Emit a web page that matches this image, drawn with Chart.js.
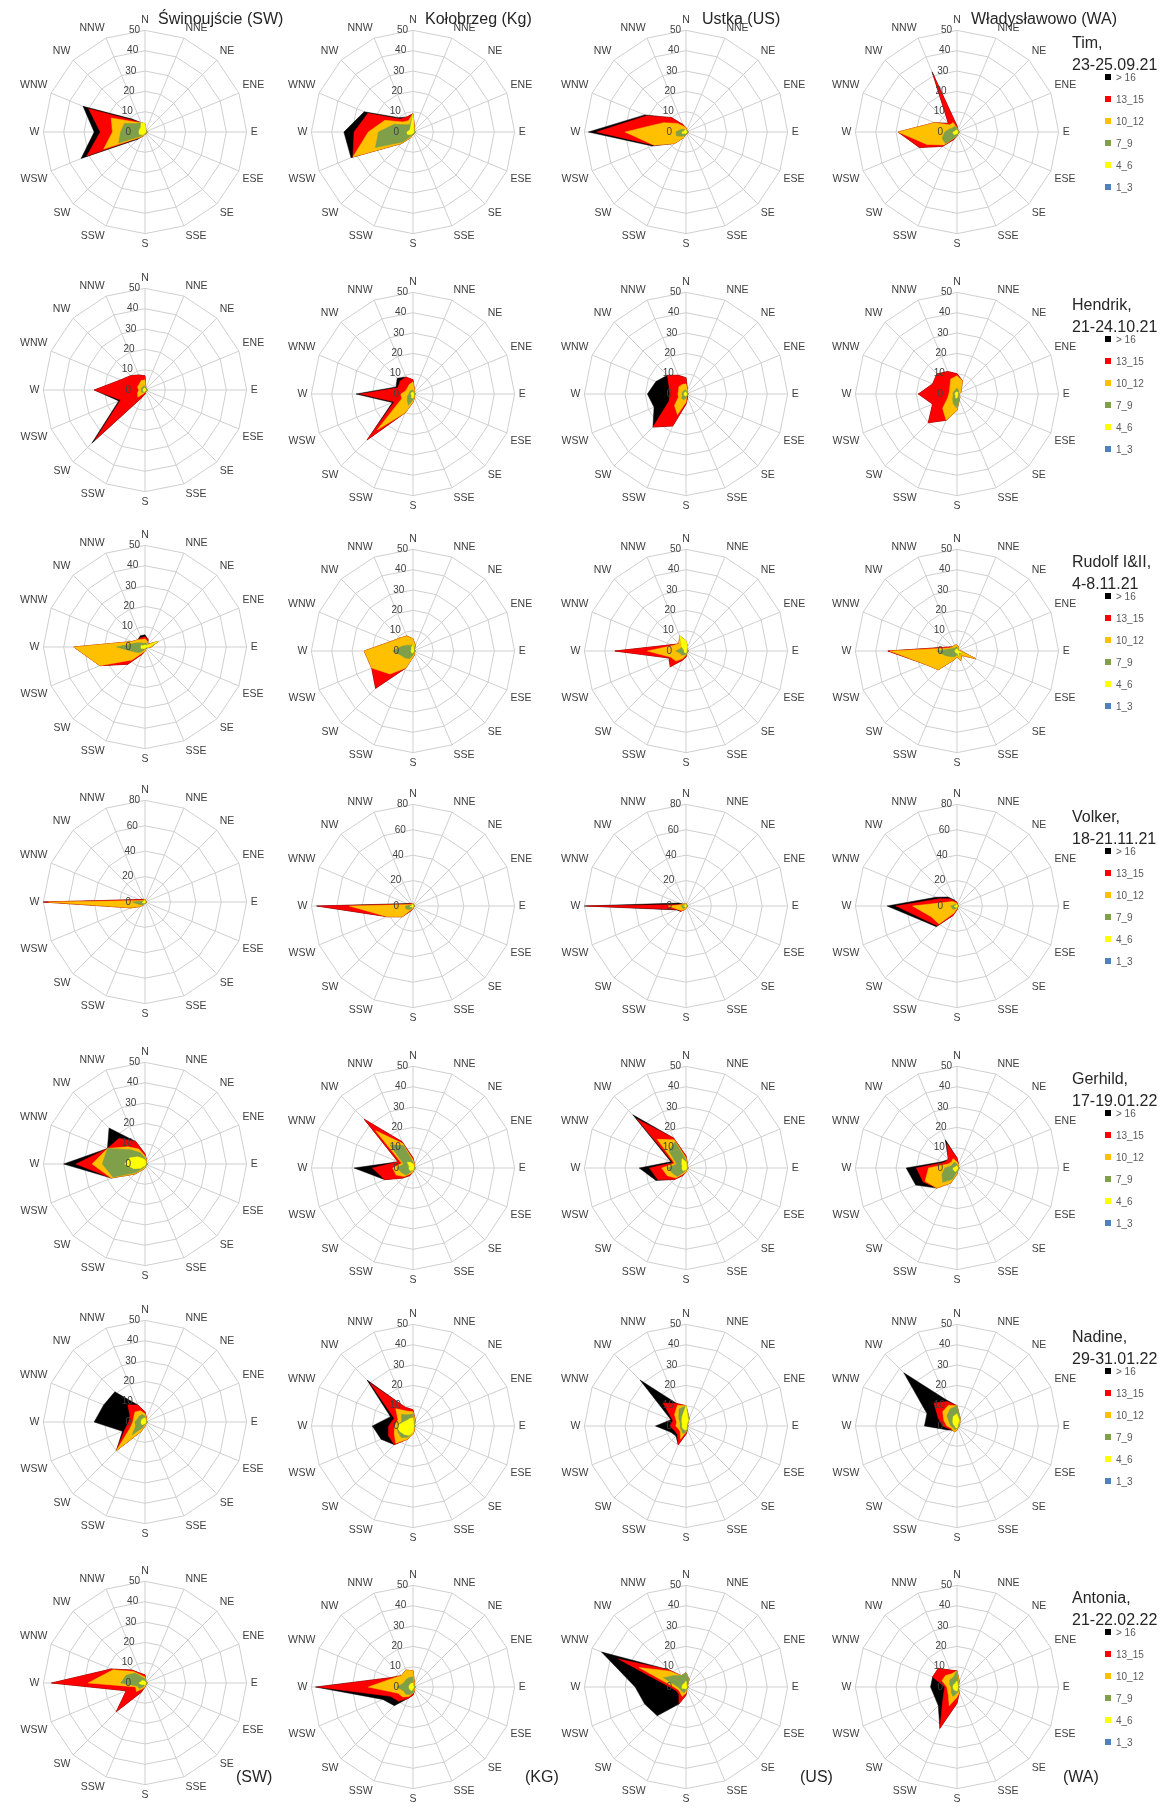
<!DOCTYPE html>
<html>
<head>
<meta charset="utf-8">
<script src="https://cdn.jsdelivr.net/npm/chart.js@4.4.1/dist/chart.umd.min.js"></script>
<style>
	body { margin: 0; background: #fff; }
	#strona { position: relative; width: 1166px; height: 1809px; overflow: hidden; font-family: 'Liberation Sans', Arial, sans-serif; }
	.wykres { position: absolute; }
	.napis { position: absolute; white-space: nowrap; color: #262626; font-size: 16px; line-height: 22px; }
	.leg { position: absolute; white-space: nowrap; color: #595959; font-size: 10px; line-height: 12px; }
	.leg span { display: inline-block; width: 6px; height: 6px; margin-right: 5px; vertical-align: 1px; }
</style>
</head>
<body>
<div id="strona"></div>
<script>
// kierunki wiatru (od N zgodnie z ruchem wskazowek)
const kierunki = ['N', 'NNE', 'NE', 'ENE', 'E', 'ESE', 'SE', 'SSE', 'S', 'SSW', 'SW', 'WSW', 'W', 'WNW', 'NW', 'NNW'];
const klasy = ['> 16', '13_15', '10_12', '7_9', '4_6', '1_3'];
const kolory = ['#000000', '#ff0000', '#ffc000', '#7f9f48', '#ffff00', '#4f81bd'];
const stacje = ['Świnoujście (SW)', 'Kołobrzeg (Kg)', 'Ustka (US)', 'Władysławowo (WA)'];
const kody = ['(SW)', '(KG)', '(US)', '(WA)'];
const sztormy = ['Tim,', 'Hendrik,', 'Rudolf I&II,', 'Volker,', 'Gerhild,', 'Nadine,', 'Antonia,'];
const daty = ['23-25.09.21', '21-24.10.21', '4-8.11.21', '18-21.11.21', '17-19.01.22', '29-31.01.22', '21-22.02.22'];
const ticks50 = [0, 10, 20, 30, 40, 50];
const ticks80 = [0, 20, 40, 60, 80];
const cisza = [0, 0, 0, 0, 0, 0, 0, 0, 0, 0, 0, 0, 0, 0, 0, 0]; // klasa 1_3 - nie widac jej nigdzie

// obwiednie warstw: > 16, 13_15, 10_12, 7_9, 4_6 (kierunki jak wyzej)
const tim_SW = [
	[4,1,1,1,1,1,1,1,1,2,5,34,25,33,9,5],
	[4,1,1,1,1,1,1,1,1,2,4,31,22,30,8,5],
	[4,1,1,1,1,1,1,1,1,2,4,22,16,18,7,5],
	[4,1,1,1,1,1,1,1,1,1,3,14,12,11,6,5],
	[4,1,.5,.5,.5,.5,.5,.5,.5,1,2,3,3,3,3,5]];
const tim_KG = [
	[9,2,1,1,1,1,1,1,1,3,8,33,34,26,10,8],
	[9,2,1,1,1,1,1,1,1,3,8,32,29,24,9,8],
	[9,2,1,1,1,1,1,1,1,3,8,32,22,15,7,6],
	[9,1,1,1,1,1,1,1,1,2,7,20,17,10,5,4],
	[9,1,.5,.5,.5,.5,.5,.5,.5,1,2,3,3,2,2,3]];
const tim_US = [
	[2,1,1,1,1,1,1,1,1,3,8,18,48,22,10,4],
	[2,1,1,1,1,1,1,1,1,3,8,17,44,21,10,4],
	[2,1,1,1,1,1,1,1,1,3,8,17,30,12,6,3],
	[1,1,1,1,1,1,1,1,1,2,3,5,5,3,2,1],
	[1,.5,.5,.5,.5,.5,.5,.5,.5,1,1,2,2,1,1,1]];
const tim_WA = [
	[3,1,1,1,1,1,1,1,2,4,10,20,29,12,6,32],
	[3,1,1,1,1,1,1,1,2,4,10,20,29,12,6,31],
	[2,1,1,1,1,1,1,1,2,3,9,16,29,12,5,5],
	[2,1,1,1,1,1,1,1,2,3,8,8,6,4,3,3],
	[1,.5,.5,.5,.5,.5,.5,.5,1,1,2,2,2,1,1,1]];

const hendrik_SW = [
	[7,1,1,1,1,1,1,1,2,4,37,14,25,13,10,8],
	[7,1,1,1,1,1,1,1,2,4,35,13,25,13,10,8],
	[5,1,1,1,1,1,1,1,1,2,5,4,3,4,4,5],
	[2,1,1,1,1,1,1,1,1,1,2,2,2,2,2,2],
	[1,.5,.5,.5,.5,.5,.5,.5,.5,1,1,1,1,1,1,1]];
const hendrik_KG = [
	[7,2,1,1,1,1,1,2,4,10,32,11,28,9,11,9],
	[7,2,1,1,1,1,1,2,4,10,32,10,26,8,9,9],
	[6,2,1,1,1,1,1,2,4,10,25,6,6,4,4,5],
	[2,1,1,1,1,1,1,1,3,6,4,3,2,2,2,2],
	[1,.5,.5,.5,.5,.5,.5,1,2,2,1,1,1,1,1,1]];
const hendrik_US = [
	[8,2,1,1,1,1,1,2,5,17,23,17,19,16,13,10],
	[8,2,1,1,1,1,1,2,5,17,23,9,8,9,13,10],
	[5,2,1,1,1,1,1,1,4,11,8,4,4,4,5,5],
	[2,1,1,1,1,1,1,1,2,3,3,2,2,2,2,2],
	[1,.5,.5,.5,.5,.5,.5,.5,1,1,1,1,1,1,1,1]];
const hendrik_WA = [
	[10,7,3,2,1,1,2,3,8,14,20,13,19,13,14,12],
	[10,7,3,2,1,1,2,3,8,14,20,13,19,13,14,12],
	[9,7,3,2,1,1,2,3,8,14,10,5,4,4,5,8],
	[3,2,1,1,1,1,1,3,7,5,3,2,2,2,2,2],
	[1,1,.5,.5,.5,.5,.5,1,2,2,1,1,1,1,1,1]];

const rudolf_SW = [
	[6,4,2,7,3,1,1,1,2,4,12,24,35,7,5,6],
	[5,4,2,7,3,1,1,1,2,4,12,24,35,7,5,5],
	[4,3,2,7,3,1,1,1,2,3,9,24,35,7,5,4],
	[2,2,1,7,2,1,1,1,1,2,4,6,14,5,3,2],
	[1,1,1,7,2,.5,.5,.5,.5,1,1,2,2,2,1,1]];
const rudolf_KG = [
	[6,3,1,1,1,1,1,2,3,9,26,22,24,12,9,8],
	[6,3,1,1,1,1,1,2,3,9,26,22,24,12,9,8],
	[6,3,1,1,1,1,1,2,3,9,16,22,24,12,9,8],
	[3,2,1,1,1,1,1,1,2,4,5,6,10,6,4,3],
	[3,1,.5,.5,.5,.5,.5,.5,1,1,1,1,1,1,1,2]];
const rudolf_US = [
	[5,2,1,1,1,1,1,1,3,5,11,9,35,8,5,8],
	[5,2,1,1,1,1,1,1,3,5,11,9,35,8,5,8],
	[5,2,1,1,1,1,1,1,2,4,7,8,19,7,5,8],
	[5,2,1,1,1,1,1,1,2,2,3,3,5,3,3,8],
	[5,2,.5,.5,.5,.5,.5,.5,1,1,1,1,1,1,3,8]];
const rudolf_WA = [
	[3,2,1,1,2,10,3,5,3,5,13,17,34,5,3,3],
	[3,2,1,1,2,10,3,5,3,5,13,17,34,5,3,3],
	[3,2,1,1,2,10,3,5,3,5,13,17,33,4,3,3],
	[2,1,1,1,1,3,2,3,2,3,4,6,10,3,2,2],
	[1,1,.5,.5,1,3,1,3,1,1,1,1,1,1,1,1]];

const volker_SW = [
	[2,1,1,1,1,1,1,1,1,2,5,12,80,5,3,2],
	[2,1,1,1,1,1,1,1,1,2,5,12,80,5,3,2],
	[2,1,1,1,1,1,1,1,1,2,5,12,76,3,2,2],
	[1,1,1,1,1,1,1,1,1,1,3,5,10,2,1,1],
	[1,.5,.5,.5,.5,.5,.5,.5,.5,1,1,2,2,1,1,1]];
const volker_KG = [
	[2,1,1,1,1,1,1,1,2,4,12,22,76,5,3,2],
	[2,1,1,1,1,1,1,1,2,4,12,22,75,4,3,2],
	[2,1,1,1,1,1,1,1,2,3,12,22,50,3,2,2],
	[1,1,1,1,1,1,1,1,1,2,4,6,6,2,1,1],
	[1,.5,.5,.5,.5,.5,.5,.5,1,1,1,2,2,1,1,1]];
const volker_US = [
	[2,1,1,1,1,1,1,1,2,3,6,8,80,6,2,2],
	[2,1,1,1,1,1,1,1,2,3,6,7,78,3,2,2],
	[2,1,1,1,1,1,1,1,2,3,5,7,14,3,2,2],
	[1,1,1,1,1,1,1,1,1,1,3,3,4,2,1,1],
	[1,.5,.5,.5,.5,.5,.5,.5,1,1,1,1,2,1,1,1]];
const volker_WA = [
	[3,1,1,1,1,1,1,1,3,8,23,30,55,18,10,5],
	[3,1,1,1,1,1,1,1,3,8,22,28,48,15,8,4],
	[2,1,1,1,1,1,1,1,2,6,20,22,35,8,5,3],
	[1,1,1,1,1,1,1,1,1,2,4,4,5,2,2,1],
	[1,.5,.5,.5,.5,.5,.5,.5,1,1,1,2,2,1,1,1]];

const gerhild_SW = [
	[5,2,1,1,1,1,1,1,2,3,7,18,40,20,25,12],
	[5,2,1,1,1,1,1,1,2,3,7,18,34,20,18,12],
	[4,2,1,1,1,1,1,1,2,3,7,18,26,20,12,8],
	[3,1,1,1,1,1,1,1,1,2,6,17,21,20,10,6],
	[2,1,.5,.5,.5,.5,.5,.5,1,1,3,6,10,8,5,3]];
const gerhild_KG = [
	[5,2,1,1,1,1,1,1,2,4,7,15,29,8,34,14],
	[5,2,1,1,1,1,1,1,2,4,7,15,20,8,34,14],
	[4,2,1,1,1,1,1,1,2,3,6,9,10,6,26,13],
	[3,1,1,1,1,1,1,1,1,2,5,6,8,5,16,12],
	[2,1,.5,.5,.5,.5,.5,.5,1,1,2,2,2,2,4,3]];
const gerhild_US = [
	[6,2,1,1,1,1,1,1,2,4,8,16,23,8,37,16],
	[6,2,1,1,1,1,1,1,2,4,8,15,18,7,34,16],
	[5,2,1,1,1,1,1,1,2,3,7,10,12,6,20,15],
	[4,1,1,1,1,1,1,1,1,2,6,7,9,5,12,14],
	[3,1,.5,.5,.5,.5,.5,.5,1,1,2,2,2,2,3,5]];
const gerhild_WA = [
	[5,2,1,1,1,1,1,1,3,8,14,22,25,8,6,15],
	[5,2,1,1,1,1,1,1,3,8,14,18,20,7,6,13],
	[3,2,1,1,1,1,1,1,3,8,14,17,14,5,4,5],
	[2,1,1,1,1,1,1,1,2,6,10,8,6,3,3,3],
	[1,.5,.5,.5,.5,.5,.5,.5,1,2,2,2,2,1,1,1]];

const nadine_SW = [
	[5,2,1,1,1,1,1,1,2,5,20,12,25,22,21,9],
	[5,2,1,1,1,1,1,1,2,5,20,11,8,8,12,9],
	[4,2,1,1,1,1,1,1,2,5,20,8,6,6,7,6],
	[3,1,1,1,1,1,1,1,1,3,9,5,5,4,4,4],
	[2,1,.5,.5,.5,.5,.5,.5,1,1,2,2,2,2,2,2]];
const nadine_KG = [
	[8,3,1,1,1,1,1,2,4,7,13,17,20,12,32,10],
	[8,3,1,1,1,1,1,2,4,7,13,13,12,10,30,10],
	[7,3,1,1,1,1,1,2,4,7,12,10,9,8,12,8],
	[6,2,1,1,1,1,1,1,3,6,8,8,8,6,8,6],
	[4,1,.5,.5,.5,.5,.5,1,3,5,6,7,8,5,4,4]];
const nadine_US = [
	[10,4,1,1,1,1,1,2,4,10,7,8,15,8,32,12],
	[10,4,1,1,1,1,1,2,4,10,6,6,8,7,16,12],
	[10,4,1,1,1,1,1,2,3,7,4,4,5,5,8,11],
	[10,4,1,1,1,1,1,1,3,4,3,3,3,3,5,9],
	[10,3,.5,.5,.5,.5,.5,1,2,2,2,2,2,2,3,5]];
const nadine_WA = [
	[10,4,2,1,1,1,1,1,2,3,3,5,16,16,37,14],
	[10,4,2,1,1,1,1,1,2,3,3,4,7,10,16,13],
	[10,4,2,1,1,1,1,1,2,3,3,3,5,7,10,11],
	[10,4,1,1,1,1,1,1,1,2,2,2,3,4,7,9],
	[6,3,.5,.5,.5,.5,.5,.5,1,1,1,1,1,2,3,5]];

const antonia_SW = [
	[4,1,1,1,1,1,1,1,2,5,20,10,46,18,9,5],
	[4,1,1,1,1,1,1,1,2,5,20,10,46,18,9,5],
	[3,1,1,1,1,1,1,1,2,3,6,5,28,17,8,4],
	[2,1,1,1,1,1,1,1,1,2,4,4,12,10,7,3],
	[1,.5,.5,.5,.5,.5,.5,.5,1,1,1,2,3,2,2,1]];
const antonia_KG = [
	[8,2,1,1,1,1,1,2,4,6,13,16,48,12,8,9],
	[8,2,1,1,1,1,1,2,4,6,10,12,47,12,8,9],
	[8,2,1,1,1,1,1,2,3,5,7,8,22,11,8,9],
	[5,1,1,1,1,1,1,1,3,4,5,5,8,5,5,5],
	[2,.5,.5,.5,.5,.5,.5,.5,1,2,2,2,2,2,2,2]];
const antonia_US = [
	[7,4,1,1,1,1,1,1,4,9,20,22,25,45,12,6],
	[7,4,1,1,1,1,1,1,4,9,5,5,8,36,12,6],
	[7,4,1,1,1,1,1,1,3,5,4,4,6,25,11,6],
	[7,4,1,1,1,1,1,1,2,3,3,3,4,12,8,6],
	[3,1,.5,.5,.5,.5,.5,.5,1,1,1,2,2,2,2,2]];
const antonia_WA = [
	[8,3,1,1,1,1,1,3,8,22,13,12,13,13,13,9],
	[8,3,1,1,1,1,1,3,8,22,10,7,6,13,13,9],
	[8,3,1,1,1,1,1,3,5,10,6,5,5,8,8,7],
	[8,2,1,1,1,1,1,2,3,5,4,3,3,4,5,5],
	[3,1,.5,.5,.5,.5,.5,1,2,2,2,2,2,2,2,2]];

const wiersze = [
	[tim_SW, tim_KG, tim_US, tim_WA],
	[hendrik_SW, hendrik_KG, hendrik_US, hendrik_WA],
	[rudolf_SW, rudolf_KG, rudolf_US, rudolf_WA],
	[volker_SW, volker_KG, volker_US, volker_WA],
	[gerhild_SW, gerhild_KG, gerhild_US, gerhild_WA],
	[nadine_SW, nadine_KG, nadine_US, nadine_WA],
	[antonia_SW, antonia_KG, antonia_US, antonia_WA]
];

// rozmieszczenie na stronie
const srodkiX = [142, 410, 683, 954];
const srodkiY = [133, 391, 648, 903, 1165, 1423, 1684];
const ROZMIAR = 250;
const FONT = '"Liberation Sans", Arial';

// etykiety osi (0..50) po lewej stronie osi N, schodkowo jak w Excelu
const etykietyOsi = {
	id: 'etykietyOsi',
	afterDraw(chart) {
		const r = chart.scales.r;
		const ctx = chart.ctx;
		ctx.save();
		ctx.font = '10px ' + FONT;
		ctx.fillStyle = '#404040';
		ctx.textAlign = 'right';
		ctx.textBaseline = 'middle';
		r.ticks.forEach(t => {
			const d = r.getDistanceFromCenterForValue(t.value);
			const odsuniecie = 5 + 9 * (1 - t.value / r.max);
			ctx.fillText(t.label, r.xCenter - odsuniecie, r.yCenter - d);
		});
		ctx.restore();
	}
};

const strona = document.getElementById('strona');

function dodajNapis(tekst, x, y, klasa) {
	const d = document.createElement('div');
	d.className = klasa;
	d.style.left = x + 'px';
	d.style.top = y + 'px';
	d.innerHTML = tekst;
	strona.appendChild(d);
	return d;
}

function rysujWykres(dane, cx, cy, ticks) {
	const box = document.createElement('div');
	box.className = 'wykres';
	box.style.left = (cx - ROZMIAR / 2) + 'px';
	box.style.top = (cy - ROZMIAR / 2) + 'px';
	const canvas = document.createElement('canvas');
	canvas.width = ROZMIAR;
	canvas.height = ROZMIAR;
	box.appendChild(canvas);
	strona.appendChild(box);

	const serie = [...dane, cisza];
	// pierwszy dataset rysuje sie na wierzchu -> od najslabszej klasy
	const datasets = [];
	for (let i = serie.length - 1; i >= 0; i--) {
		datasets.push({
			label: klasy[i],
			data: serie[i],
			backgroundColor: kolory[i],
			borderColor: kolory[i],
			borderWidth: 0.5,
			pointRadius: 0,
			fill: 'origin'
		});
	}
	new Chart(canvas, {
		type: 'radar',
		data: { labels: kierunki, datasets: datasets },
		options: {
			responsive: false,
			animation: false,
			devicePixelRatio: 1,
			elements: { line: { tension: 0 } },
			plugins: { legend: { display: false }, tooltip: { enabled: false } },
			scales: {
				r: {
					min: 0,
					max: ticks[ticks.length - 1],
					ticks: { stepSize: ticks[1] - ticks[0], display: false },
					grid: { color: '#cfcfcf', lineWidth: 1 },
					angleLines: { color: '#cfcfcf', lineWidth: 1 },
					pointLabels: {
						color: '#404040',
						padding: 4,
						font: { size: 10.5, family: FONT }
					}
				}
			}
		},
		plugins: [etykietyOsi]
	});
}

window.addEventListener('load', function () {
	wiersze.forEach((wiersz, w) => {
		wiersz.forEach((dane, k) => {
			const cy = srodkiY[w] + (w > 0 && k > 0 ? 4 : 0);
			rysujWykres(dane, srodkiX[k], cy, w === 3 ? ticks80 : ticks50);
		});
		// tytul sztormu + legenda
		const yc = srodkiY[w] + (w > 0 ? 4 : 0);
		dodajNapis(sztormy[w] + '<br>' + daty[w], 1072, yc - 101, 'napis');
		klasy.forEach((kl, i) => {
			dodajNapis('<span style="background:' + kolory[i] + '"></span>' + kl, 1105, yc - 61 + 22 * i, 'leg');
		});
	});
	const xNaglowka = [158, 425, 702, 971];
	stacje.forEach((s, i) => dodajNapis(s, xNaglowka[i], 8, 'napis'));
	const xKodu = [236, 525, 800, 1063];
	kody.forEach((s, i) => dodajNapis(s, xKodu[i], 1766, 'napis'));
});
</script>
</body>
</html>
